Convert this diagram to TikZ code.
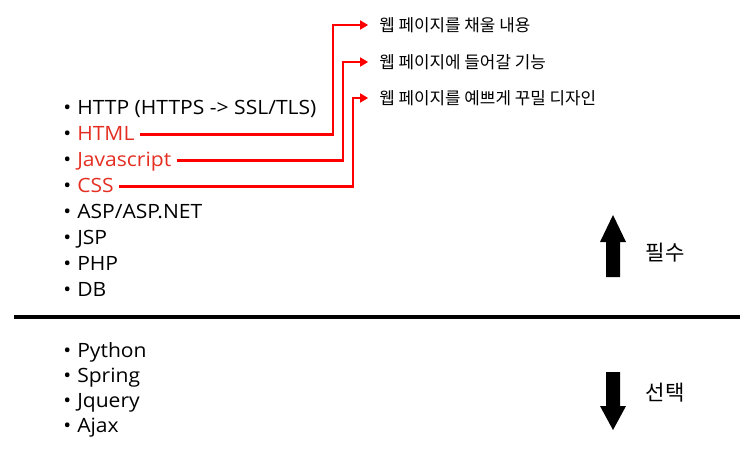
\documentclass[tikz,border=0pt]{standalone}
\usepackage{fontspec}
\setmainfont{Open Sans}[FakeStretch=1.07]
\newfontfamily\kr{Noto Sans CJK KR}
\usetikzlibrary{arrows.meta}
\definecolor{itemred}{RGB}{228,46,34}
\definecolor{linkred}{RGB}{255,0,0}
\newcommand{\bul}{\makebox[0.35cm][l]{\textbullet}}

\begin{document}
\begin{tikzpicture}[x=0.025cm, y=-0.025cm,
    item/.style={anchor=base west, inner sep=0pt, font=\fontsize{14}{16}\selectfont},
    note/.style={anchor=west, inner sep=0pt, font=\kr\fontsize{12}{14}\selectfont},
    side/.style={inner sep=0pt, font=\kr\fontsize{15}{17}\selectfont},
    link/.style={draw=linkred, line width=1.9pt, shorten <=0.13cm, shorten >=0.27cm,
      -{Triangle[length=0.2cm, width=0.22cm]}}
  ]
    \useasboundingbox (0,0) rectangle (740,452);

    % upper list
    \node[item] (http) at (63,115) {\bul HTTP (HTTPS -> SSL/TLS)};
    \node[item] (html) at (63,140.9) {\bul\textcolor{itemred}{HTML}};
    \node[item] (js) at (63,166.7) {\bul\textcolor{itemred}{Javascript}};
    \node[item] (css) at (63,192.6) {\bul\textcolor{itemred}{CSS}};
    \foreach \t [count=\i] in {ASP/ASP.NET, JSP, PHP, DB}
      \node[item] (must\i) at (63,192.6+25.9*\i) {\bul \t};

    % lower list
    \foreach \t [count=\i] in {Python, Spring, Jquery, Ajax}
      \node[item] (opt\i) at (63,331.7+25.3*\i) {\bul \t};

    % what each one does
    \node[note] (content) at (379,25) {웹 페이지를 채울 내용};
    \node[note] (feature) at (379,62) {웹 페이지에 들어갈 기능};
    \node[note] (design) at (379,98) {웹 페이지를 예쁘게 꾸밀 디자인};

    \draw[link] ([yshift=0.16cm]html.base east) -| ([xshift=-1.15cm]content.west) -- (content.west);
    \draw[link] ([yshift=0.16cm]js.base east) -| ([xshift=-0.9cm]feature.west) -- (feature.west);
    \draw[link] ([yshift=0.16cm]css.base east) -| ([xshift=-0.65cm]design.west) -- (design.west);

    % divider
    \draw[line width=2.2pt] (14,317) -- (740,317);

    % up / down
    \fill (613,277) ++(-7,0) -- ++(0,-35) -- ++(-6,0) -- ++(13,-27) -- ++(13,27)
      -- ++(-6,0) -- ++(0,35) -- cycle;
    \fill (613,372) ++(-7,0) -- ++(0,34) -- ++(-6,0) -- ++(13,24) -- ++(13,-24)
      -- ++(-6,0) -- ++(0,-34) -- cycle;
    \node[side] (must) at (665,253) {필수};
    \node[side] (opt) at (665,393) {선택};
  \end{tikzpicture}
\end{document}
